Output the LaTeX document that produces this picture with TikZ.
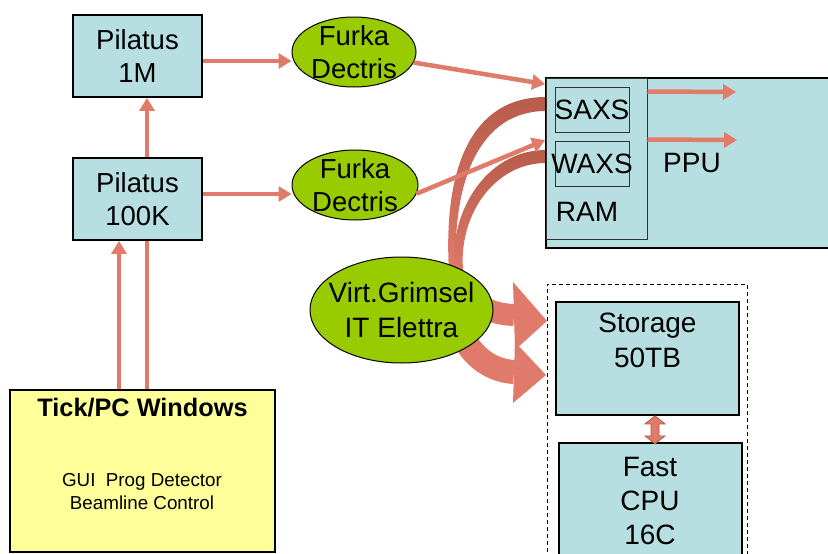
\documentclass[tikz,border=0pt]{standalone}
\usepackage{fontspec}
\setmainfont{Liberation Sans}
\usetikzlibrary{arrows.meta,shapes.geometric,calc}
\definecolor{cyanbox}{HTML}{B7DEE0}
\definecolor{greenell}{HTML}{99CC00}
\definecolor{yellowbox}{HTML}{FFFF99}
\definecolor{salmon}{HTML}{E07A6A}
\definecolor{salmondark}{HTML}{B85C4C}
\begin{document}
\begin{tikzpicture}[x=1pt,y=-1pt,
  box/.style={draw=black,line width=1.8pt,fill=cyanbox,inner sep=0pt},
  sub/.style={draw=black!80,line width=1pt,inner sep=0pt},
  ell/.style={ellipse,draw=black,line width=1pt,fill=greenell,inner sep=0pt},
  txt/.style={inner sep=0pt,align=center,font=\fontsize{27.5}{33.5}\selectfont},
  bigtxt/.style={inner sep=0pt,align=center,font=\fontsize{28}{34.5}\selectfont},
  arr/.style={draw=salmon,line width=4.5pt,-{Triangle[length=13pt,width=15pt]}},
  ln/.style={draw=salmon,line width=4.5pt},
  band/.style={fill=salmon}]
\useasboundingbox (0,0) rectangle (828,554);
\clip (0,0) rectangle (828,554);
\fill[white] (0,0) rectangle (828,554);

% dashed group frame
\node[draw=black,line width=0.9pt,dash pattern=on 4pt off 3pt,inner sep=0pt,
      minimum width=200pt,minimum height=316pt] (grp) at (647,442) {};

% curved thick arrows (behind the ellipse and the PPU box)
\shade[top color=salmondark,middle color=salmon,bottom color=salmon]
  (546,97) .. controls (470,97) and (443,170) .. (449,272)
  -- (456,272) .. controls (452,180) and (480,111) .. (546,111) -- cycle;
\shade[top color=salmondark,bottom color=salmon]
  (546,150) .. controls (485,150) and (446,215) .. (455,278)
  -- (464,278) .. controls (455,220) and (492,163) .. (546,163) -- cycle;
\draw[salmon,line width=22pt] (460,285) .. controls (472,305) and (490,314) .. (514,315);
\fill[salmon] (513,282) -- (547,321) -- (515,350) -- cycle;
\draw[salmon,line width=24pt] (455,300) .. controls (455,340) and (480,370) .. (514,372);
\fill[salmon] (515,342) -- (546,375) -- (513,403) -- cycle;

% PPU
\node[box,minimum width=294pt,minimum height=170pt] (ppu) at (693,163) {};
\node[sub,minimum width=101pt,minimum height=161pt] (ram) at (596.5,158.5) {};
\node[sub,minimum width=74pt,minimum height=45pt] (saxs) at (592,109.5) {};
\node[sub,minimum width=74pt,minimum height=45pt] (waxs) at (592,163.5) {};
\node[bigtxt] (saxst) at (592,109.5) {SAXS};
\node[bigtxt] (waxst) at (592,163.5) {WAXS};
\node[bigtxt] (ppul) at (692,163) {PPU};
\node[bigtxt] (raml) at (587,211.5) {RAM};

% Virt.Grimsel
\node[ell,minimum width=183pt,minimum height=106pt] (vg) at (401.5,310) {};
\node[bigtxt] (vgt) at (vg) {Virt.Grimsel\\IT Elettra};

% Furka ellipses
\node[ell,minimum width=124pt,minimum height=70pt] (f1) at (354,52) {};
\node[txt] (f1t) at (f1) {Furka\\Dectris};
\node[ell,minimum width=126pt,minimum height=70pt] (f2) at (355,185) {};
\node[txt] (f2t) at (f2) {Furka\\Dectris};

% Pilatus boxes
\node[box,minimum width=129pt,minimum height=82pt] (p1) at (137.5,56) {};
\node[txt] (p1t) at (p1) {Pilatus\\1M};
\node[box,minimum width=129pt,minimum height=82pt] (p2) at (137.5,199) {};
\node[txt] (p2t) at (p2) {Pilatus\\100K};

% Tick/PC box
\node[box,fill=yellowbox,minimum width=265pt,minimum height=162pt] (tick) at (142.5,471) {};
\node[inner sep=0pt,font=\bfseries\fontsize{25.3}{28}\selectfont] (ticktitle) at (142.5,408) {Tick/PC Windows};
\node[inner sep=0pt,align=center,font=\fontsize{18.8}{23}\selectfont] (tickbody) at (142,492) {GUI\ \ Prog Detector\\Beamline Control};

% Storage and CPU
\node[box,minimum width=183pt,minimum height=113pt] (st) at (647.5,358.5) {};
\node[bigtxt,font=\fontsize{28}{35}\selectfont] (stt) at (647.5,340.5) {Storage\\50TB};
\node[box,minimum width=183pt,minimum height=157pt] (cpu) at (650.5,521.5) {};
\node[bigtxt,font=\fontsize{28}{34}\selectfont] (cput) at (650,501) {Fast\\CPU\\16C};
\draw[draw=salmondark,fill=salmon,line width=0.8pt]
  ([xshift=7.5pt]st.south) -- ++(10,8) -- ++(-6,0) -- ++(0,12) -- ++(6,0)
  -- ++(-10,8) -- ++(-10,-8) -- ++(6,0) -- ++(0,-12) -- ++(-6,0) -- cycle;

% thin connectors
\draw[arr] ([xshift=9.5pt]p2.north) -- ([xshift=9.5pt]p1.south);
\draw[arr] ([yshift=-5pt]p1.east) -- ([yshift=-5pt]p1.east -| f1.west);
\draw[arr] ([yshift=5pt]p2.east) -- ([yshift=5pt]p2.east -| f2.west);
\draw[ln] ([xshift=4.5pt]tick.north) -- ([xshift=4.5pt]tick.north |- p2.south);
\draw[arr] ([xshift=-23.5pt]tick.north) -- ([xshift=-23.5pt]tick.north |- p2.south);
\draw[arr] (f1.-10) -- ([yshift=-7pt]ppu.north west);
\draw[arr] (f2.-8) -- ([yshift=-63pt]ppu.north west);
\coordinate (o1) at (736,92);
\coordinate (o2) at (737,140);
\draw[arr] ([yshift=-14pt]ram.north east) -- (o1);
\draw[arr] ([yshift=-62pt]ram.north east) -- (o2);
\end{tikzpicture}
\end{document}
